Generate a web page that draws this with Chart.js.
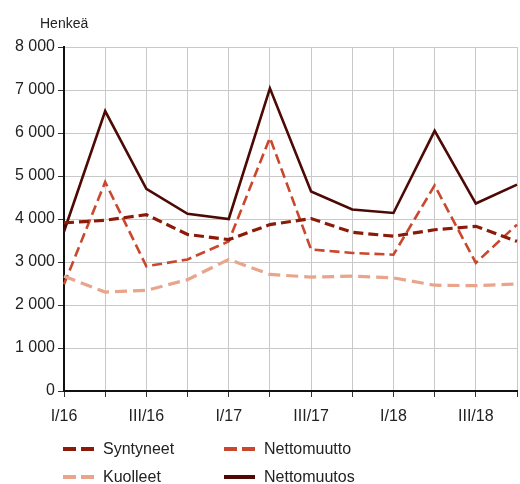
<!DOCTYPE html>
<html lang="fi">
<head>
<meta charset="UTF-8">
<title>Väestönmuutokset</title>
<script src="https://cdn.jsdelivr.net/npm/chart.js"></script>
<style>
  html, body { margin: 0; padding: 0; background: #fff; }
  #wrap { width: 520px; height: 484px; position: relative; }
</style>
</head>
<body>
<div id="wrap"><canvas id="chart" width="520" height="484"></canvas></div>
<script>
// quarters I/16 .. IV/18
const quarters = ['I/16', 'II/16', 'III/16', 'IV/16', 'I/17', 'II/17', 'III/17', 'IV/17', 'I/18', 'II/18', 'III/18', 'IV/18'];
const shownLabels = ['I/16', 'III/16', 'I/17', 'III/17', 'I/18', 'III/18'];

const syntyneet   = [3910, 3970, 4100, 3640, 3520, 3870, 4010, 3690, 3600, 3750, 3830, 3480];
const kuolleet    = [2670, 2300, 2340, 2590, 3060, 2710, 2650, 2670, 2630, 2460, 2450, 2490];
const nettomuutto = [2480, 4860, 2900, 3060, 3480, 5890, 3290, 3210, 3170, 4780, 2980, 3870];
const nettomuutos = [3710, 6510, 4700, 4120, 4000, 7040, 4640, 4220, 4140, 6050, 4360, 4800];

const yTicks = [0, 1000, 2000, 3000, 4000, 5000, 6000, 7000, 8000];

const FONT = 'Liberation Sans, Arial, sans-serif';

const series = [
  { label: 'Syntyneet',   data: syntyneet,   color: '#8c1a08', dash: [10, 5], width: 3.2 },
  { label: 'Kuolleet',    data: kuolleet,    color: '#e9a48c', dash: [12, 6], width: 3.2 },
  { label: 'Nettomuutto', data: nettomuutto, color: '#c9472d', dash: [10, 5], width: 2.6 },
  { label: 'Nettomuutos', data: nettomuutos, color: '#4d0a05', dash: [],      width: 2.6 }
];

function fmt(v) {
  return String(v).replace(/\B(?=(\d{3})+(?!\d))/g, ' ');
}

// legend + unit label drawn straight on the canvas
const extras = {
  id: 'extras',
  afterDraw(chart) {
    const ctx = chart.ctx;
    ctx.save();
    ctx.fillStyle = '#222';
    ctx.font = '14px ' + FONT;
    ctx.textBaseline = 'middle';
    ctx.textAlign = 'left';
    ctx.fillText('Henkeä', 40, 24);

    const cols = [63, 224];
    const rows = [449, 477];
    const order = [0, 2, 1, 3];
    order.forEach((si, i) => {
      const s = series[si];
      const x = cols[i % 2];
      const y = rows[Math.floor(i / 2)];
      ctx.strokeStyle = s.color;
      ctx.lineWidth = 4;
      ctx.lineCap = 'butt';
      ctx.setLineDash(s.dash.length ? [13, 5] : []);
      ctx.beginPath();
      ctx.moveTo(x, y);
      ctx.lineTo(x + 31, y);
      ctx.stroke();
      ctx.setLineDash([]);
      ctx.fillStyle = '#222';
      ctx.font = '16px ' + FONT;
      ctx.fillText(s.label, x + 40, y + 1);
    });
    ctx.restore();
  }
};

new Chart(document.getElementById('chart'), {
  type: 'line',
  data: {
    labels: quarters,
    datasets: series.map(s => ({
      label: s.label,
      data: s.data,
      borderColor: s.color,
      borderDash: s.dash,
      borderWidth: s.width,
      pointRadius: 0,
      tension: 0,
      fill: false
    }))
  },
  options: {
    responsive: false,
    animation: false,
    layout: { padding: { left: 0, right: 3, top: 47, bottom: 0 } },
    plugins: {
      legend: { display: false },
      tooltip: { enabled: false }
    },
    scales: {
      x: {
        offset: false,
        grid: { color: '#c8c8c8', lineWidth: 1, tickColor: '#333', tickLength: 6, drawOnChartArea: true },
        border: { color: '#111', width: 2 },
        ticks: {
          autoSkip: false,
          maxRotation: 0,
          padding: 10,
          color: '#222',
          font: { family: FONT, size: 16 },
          callback: function (v, i) {
            const l = quarters[i];
            return shownLabels.includes(l) ? l : '';
          }
        },
        afterFit(scale) {
          scale.height = 93;
          scale.paddingLeft = 0;
          scale.paddingRight = 0;
        }
      },
      y: {
        min: 0,
        max: 8000,
        afterBuildTicks(scale) { scale.ticks = yTicks.map(v => ({ value: v })); },
        grid: { color: '#c8c8c8', lineWidth: 1, tickColor: '#333', tickLength: 6 },
        border: { color: '#111', width: 2 },
        ticks: {
          padding: 3,
          color: '#222',
          font: { family: FONT, size: 16 },
          callback: v => fmt(v)
        },
        afterFit(scale) {
          scale.width = 64;
          scale.paddingTop = 0;
          scale.paddingBottom = 0;
        }
      }
    }
  },
  plugins: [extras]
});
</script>
</body>
</html>
